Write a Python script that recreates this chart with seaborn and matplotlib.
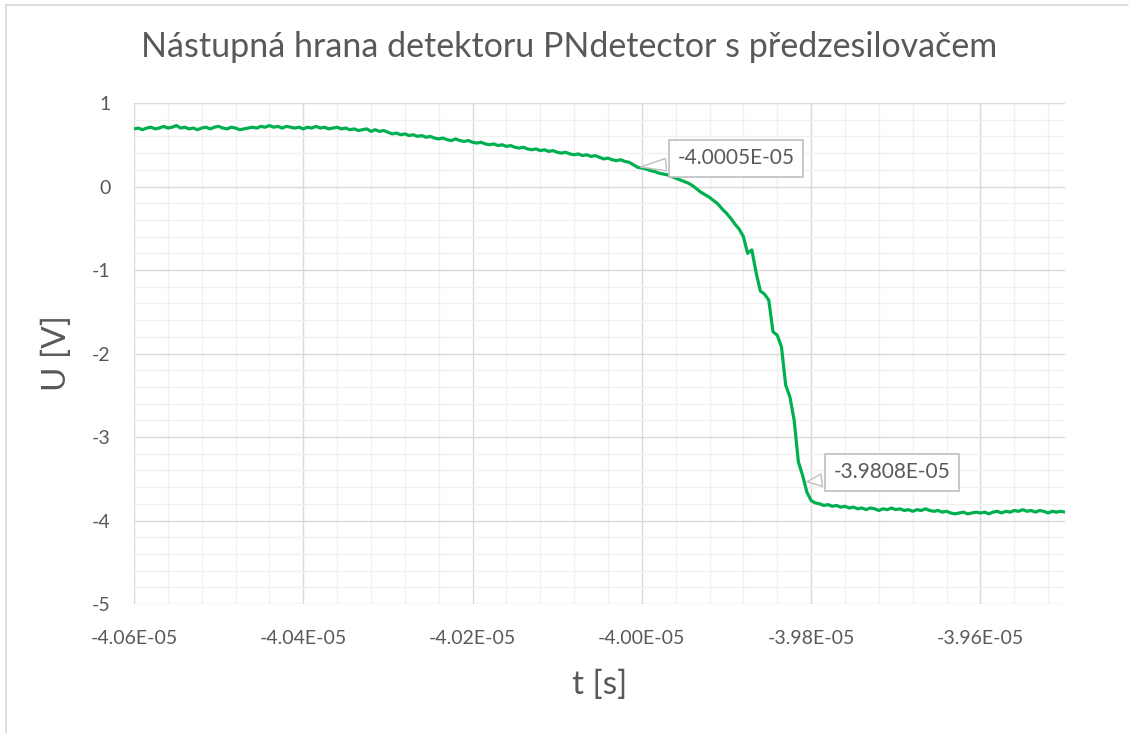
import numpy as np
import pandas as pd
import matplotlib
matplotlib.use("Agg")
import matplotlib.pyplot as plt
from matplotlib.ticker import MultipleLocator, FuncFormatter
from matplotlib.lines import Line2D
import seaborn as sns

# ---- data ----
t_start_ns = -40600          # first sample, ns
t_step_ns = 5                # sampling step, ns
voltage = [
    0.69, 0.70, 0.68, 0.70, 0.71, 0.69, 0.70, 0.72, 0.70, 0.71,
    0.73, 0.70, 0.71, 0.69, 0.70, 0.68, 0.70, 0.71, 0.69, 0.71,
    0.72, 0.70, 0.69, 0.71, 0.70, 0.68, 0.69, 0.70, 0.71, 0.70,
    0.72, 0.71, 0.73, 0.71, 0.72, 0.70, 0.72, 0.71, 0.70, 0.71,
    0.69, 0.71, 0.70, 0.72, 0.70, 0.71, 0.69, 0.70, 0.71, 0.69,
    0.70, 0.68, 0.69, 0.67, 0.68, 0.69, 0.66, 0.68, 0.66, 0.67,
    0.65, 0.63, 0.64, 0.62, 0.63, 0.61, 0.62, 0.60, 0.61, 0.59,
    0.60, 0.58, 0.57, 0.58, 0.56, 0.55, 0.57, 0.55, 0.54, 0.55,
    0.53, 0.52, 0.53, 0.51, 0.50, 0.51, 0.49, 0.50, 0.48, 0.49,
    0.47, 0.46, 0.47, 0.45, 0.44, 0.45, 0.43, 0.44, 0.42, 0.43,
    0.41, 0.40, 0.41, 0.39, 0.38, 0.39, 0.37, 0.38, 0.36, 0.37,
    0.35, 0.33, 0.34, 0.32, 0.31, 0.32, 0.30, 0.29, 0.26, 0.23,
    0.22, 0.21, 0.19, 0.18, 0.16, 0.15, 0.14, 0.12, 0.10, 0.08,
    0.06, 0.04, 0.01, -0.03, -0.07, -0.10, -0.13, -0.17, -0.21, -0.27,
    -0.32, -0.38, -0.45, -0.51, -0.60, -0.80, -0.76, -1.03, -1.25, -1.29,
    -1.36, -1.74, -1.78, -1.92, -2.38, -2.52, -2.80, -3.30, -3.46, -3.66,
    -3.76, -3.79, -3.80, -3.82, -3.81, -3.83, -3.82, -3.84, -3.83, -3.85,
    -3.84, -3.86, -3.85, -3.87, -3.85, -3.86, -3.88, -3.86, -3.87, -3.85,
    -3.87, -3.86, -3.88, -3.87, -3.89, -3.87, -3.88, -3.86, -3.88, -3.89,
    -3.88, -3.90, -3.89, -3.91, -3.92, -3.91, -3.90, -3.92, -3.91, -3.90,
    -3.91, -3.90, -3.92, -3.90, -3.89, -3.91, -3.89, -3.90, -3.88, -3.89,
    -3.87, -3.89, -3.88, -3.90, -3.88, -3.89, -3.91, -3.89, -3.90, -3.89,
    -3.90,
]
time_s = (t_start_ns + t_step_ns * np.arange(len(voltage))) * 1e-9
label_times = [-4.0005e-05, -3.9808e-05]

title = "Nástupná hrana detektoru PNdetector s předzesilovačem"
xlabel = "t [s]"
ylabel = "U [V]"

df = pd.DataFrame({"t": time_s, "U": voltage})

# ---- style ----
sns.set_theme(style="white")
plt.rcParams["font.family"] = ["Lato", "DejaVu Sans"]
txt = "#595959"

fig = plt.figure(figsize=(11.38, 7.33), dpi=100)
ax = fig.add_axes([134/1138, 1-604/733, (1065-134)/1138, (604-103)/733])

sns.lineplot(data=df, x="t", y="U", ax=ax, color="#00B050", linewidth=2.3)

ax.set_xlim(-4.06e-05, -3.95e-05)
ax.set_ylim(-5, 1)
ax.xaxis.set_major_locator(MultipleLocator(2e-07))
ax.xaxis.set_minor_locator(MultipleLocator(4e-08))
ax.yaxis.set_major_locator(MultipleLocator(1))
ax.yaxis.set_minor_locator(MultipleLocator(0.2))
ax.xaxis.set_major_formatter(FuncFormatter(lambda v, p: f"{v:.2E}"))
ax.yaxis.set_major_formatter(FuncFormatter(lambda v, p: "0" if abs(v) < 1e-9 else f"{v:.0f}"))

ax.grid(which="major", color="#D9D9D9", linewidth=1.0)
ax.grid(which="minor", color="#F0F0F0", linewidth=1.0)
ax.set_axisbelow(True)
for s in ax.spines.values():
    s.set_visible(False)
ax.tick_params(which="both", length=0)
ax.tick_params(axis="x", pad=19, labelsize=14, labelcolor=txt)
ax.tick_params(axis="y", pad=17, labelsize=14, labelcolor=txt)

ax.set_xlabel(xlabel, fontsize=24, color=txt, labelpad=16)
ax.set_ylabel(ylabel, fontsize=24, color=txt, labelpad=14)
fig.text(0.5, 1-47/733, title, ha="center", va="center",
         fontsize=24.5, color=txt)

# data labels (callouts)
offsets = [(71, 6.5), (63, 7)]
for tl, off in zip(label_times, offsets):
    yv = float(np.interp(tl, time_s, voltage))
    ax.annotate(f"{tl:.4E}", xy=(tl, yv), xytext=off, textcoords="offset points",
                ha="center", va="center", fontsize=15, color=txt,
                bbox=dict(boxstyle="square,pad=0.4", fc="white", ec="#BFBFBF", lw=1.2),
                arrowprops=dict(arrowstyle="wedge,tail_width=0.6,shrink_factor=0.5",
                                fc="white", ec="#BFBFBF", lw=1.0),
                zorder=5)

# chart-area border
fig.add_artist(Line2D([6/1138, 6/1138], [0, 1-5/733], transform=fig.transFigure,
                      color="#D9D9D9", lw=1.2))
fig.add_artist(Line2D([6/1138, 1128/1138], [1-5/733, 1-5/733], transform=fig.transFigure,
                      color="#D9D9D9", lw=1.2))

fig.savefig("out.png", dpi=100)
